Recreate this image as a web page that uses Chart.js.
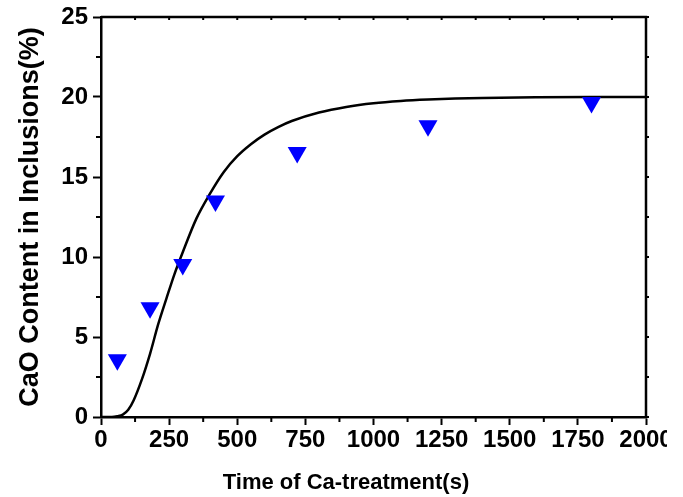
<!DOCTYPE html>
<html>
<head>
<meta charset="utf-8">
<script src="https://cdn.jsdelivr.net/npm/chart.js@4.4.1/dist/chart.umd.min.js"></script>
<style>
  html, body { margin: 0; padding: 0; background: #fff; }
  #wrap { width: 683px; height: 497px; position: relative; }
</style>
</head>
<body>
<div id="wrap"><canvas id="chart"></canvas></div>
<script>
// measured points (time s, CaO %)
const measTime = [60, 180, 300, 420, 720, 1200, 1800];
const measCaO  = [3.58, 6.83, 9.53, 13.5, 16.53, 18.2, 19.65];

// model curve
const fitTime = [0, 40, 60, 80, 100, 120, 150, 180, 210, 240, 270, 300, 350, 400, 450,
                 500, 550, 600, 650, 700, 800, 900, 1000, 1100, 1200, 1300, 1400, 1600, 1800, 2000];
const fitCaO  = [0, 0, 0.05, 0.15, 0.45, 1.05, 2.35, 3.95, 5.8, 7.4, 8.95, 10.3, 12.4, 13.96, 15.3,
                 16.3, 17.05, 17.65, 18.12, 18.5, 19.03, 19.38, 19.61, 19.75, 19.84, 19.9, 19.94, 19.98, 20, 20];

const xTicks = [0, 250, 500, 750, 1000, 1250, 1500, 1750, 2000];
const yTicks = [0, 5, 10, 15, 20, 25];

const FONT = '"Liberation Sans", Arial, sans-serif';

// minor ticks + mirrored box like the Origin plot
const frame = {
  id: 'frame',
  afterDraw(chart) {
    const { ctx, chartArea: a, scales: { x, y } } = chart;
    ctx.save();
    ctx.strokeStyle = '#000';
    ctx.lineWidth = 2.5;
    ctx.beginPath();
    ctx.moveTo(a.left, a.top); ctx.lineTo(a.right, a.top); ctx.lineTo(a.right, a.bottom);
    ctx.stroke();
    ctx.lineWidth = 2;
    ctx.beginPath();
    for (let v = 125; v < 2000; v += 250) {
      const px = x.getPixelForValue(v);
      ctx.moveTo(px, a.bottom); ctx.lineTo(px, a.bottom + 5);
    }
    for (let v = 0; v <= 2000; v += 125) {
      const px = x.getPixelForValue(v);
      ctx.moveTo(px, a.top); ctx.lineTo(px, a.top + 3);
    }
    for (let v = 2.5; v < 25; v += 5) {
      const py = y.getPixelForValue(v);
      ctx.moveTo(a.left, py); ctx.lineTo(a.left - 5, py);
    }
    for (let v = 0; v <= 25; v += 2.5) {
      const py = y.getPixelForValue(v);
      ctx.moveTo(a.right, py); ctx.lineTo(a.right + 3, py);
    }
    ctx.stroke();
    // original figure is cropped through the last label
    ctx.fillStyle = '#fff';
    ctx.fillRect(667, a.bottom + 10, 30, 40);
    ctx.restore();
  }
};

new Chart(document.getElementById('chart'), {
  type: 'line',
  data: {
    datasets: [
      {
        label: 'measured',
        showLine: false,
        data: measTime.map((t, i) => ({ x: t, y: measCaO[i] })),
        pointStyle: 'triangle',
        rotation: 180,
        pointRadius: 11,
        pointHoverRadius: 11,
        pointBackgroundColor: '#0000ff',
        pointBorderWidth: 0
      },
      {
        label: 'model',
        data: fitTime.map((t, i) => ({ x: t, y: fitCaO[i] })),
        borderColor: '#000',
        borderWidth: 2.5,
        pointRadius: 0,
        cubicInterpolationMode: 'monotone',
        fill: false
      }
    ]
  },
  options: {
    responsive: true,
    maintainAspectRatio: false,
    animation: false,
    events: [],
    layout: { padding: { top: 15, right: 37, bottom: 0, left: 0 } },
    plugins: { legend: { display: false }, tooltip: { enabled: false } },
    scales: {
      x: {
        type: 'linear',
        min: 0, max: 2000,
        afterFit(s) { s.height = 80; },
        afterBuildTicks(s) { s.ticks = xTicks.map(v => ({ value: v })); },
        grid: { display: true, drawOnChartArea: false, tickLength: 8, tickWidth: 2, tickColor: '#000' },
        border: { display: true, color: '#000', width: 2.5 },
        ticks: { color: '#000', padding: 3, maxRotation: 0, autoSkip: false,
                 callback: v => String(v),
                 font: { family: FONT, size: 24, weight: 'bold', lineHeight: 1 } },
        // trailing spaces: the original title sits left of the axis centre
        title: { display: true, text: 'Time of Ca-treatment(s)         ', color: '#000',
                 padding: { top: 0, bottom: 1 },
                 font: { family: FONT, size: 22, weight: 'bold', lineHeight: 1.2 } }
      },
      y: {
        type: 'linear',
        min: 0, max: 25,
        afterFit(s) { s.width = 101; },
        afterBuildTicks(s) { s.ticks = yTicks.map(v => ({ value: v })); },
        grid: { display: true, drawOnChartArea: false, tickLength: 8, tickWidth: 2, tickColor: '#000' },
        border: { display: true, color: '#000', width: 2.5 },
        ticks: { color: '#000', padding: 5,
                 callback: v => String(v),
                 font: { family: FONT, size: 24, weight: 'bold', lineHeight: 1 } },
        title: { display: true, text: 'CaO Content in Inclusions(%)', color: '#000',
                 padding: { top: 14, bottom: 0 },
                 font: { family: FONT, size: 27, weight: 'bold', lineHeight: 1.2 } }
      }
    }
  },
  plugins: [frame]
});
</script>
</body>
</html>
